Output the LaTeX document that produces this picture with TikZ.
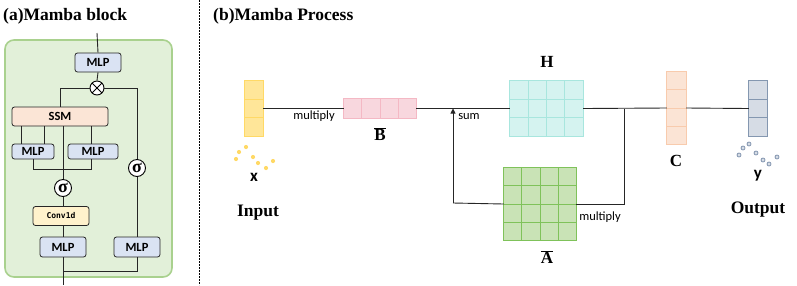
\documentclass[tikz,border=0pt]{standalone}
\usepackage{fontspec}
\setmainfont{Liberation Serif}
\newfontfamily\carl{Carlito}
\newfontfamily\dmono{DejaVu Sans Mono}
\usetikzlibrary{calc,arrows.meta}
\definecolor{cbox}{HTML}{DAE3F3}
\definecolor{cssm}{HTML}{FBE5D6}
\definecolor{cconv}{HTML}{FFF2CC}
\definecolor{cgreenbg}{HTML}{E2F0D9}
\definecolor{cgreenbd}{HTML}{A9D18E}
\definecolor{xfill}{HTML}{FFE699}
\definecolor{xdraw}{HTML}{FFD966}
\definecolor{bfill}{HTML}{F8D7DE}
\definecolor{bdraw}{HTML}{F4B8C4}
\definecolor{hfill}{HTML}{D5F3F0}
\definecolor{hdraw}{HTML}{A8E6DE}
\definecolor{afill}{HTML}{C9E3B6}
\definecolor{adraw}{HTML}{7FC25A}
\definecolor{cfill}{HTML}{FBE4D5}
\definecolor{cdraw}{HTML}{F8CBAD}
\definecolor{yfill}{HTML}{D6DCE5}
\definecolor{ydraw}{HTML}{8497B0}
\tikzset{
  blk/.style={draw=black!85, line width=0.8pt, rounded corners=2.5pt, inner sep=0pt, font=\carl\bfseries\fontsize{12.5}{13}\selectfont},
  mlpbox/.style={blk, fill=cbox},
  circ/.style={circle, draw=black, fill=white, line width=0.9pt, inner sep=0pt, minimum size=#1},
  sig/.style={circ=17pt, font=\bfseries\fontsize{18}{18}\selectfont},
  wire/.style={line width=0.9pt, draw=black!85},
  mat/.style={draw=none, inner sep=0pt},
  lbl/.style={font=\carl\fontsize{12.5}{13}\selectfont, inner sep=0pt},
  ttl/.style={font=\bfseries\fontsize{17.5}{19}\selectfont, inner sep=0pt, anchor=west},
  big/.style={font=\bfseries\fontsize{17.5}{19}\selectfont, inner sep=0pt},
  sym/.style={font=\bfseries\fontsize{17}{17}\selectfont, inner sep=0pt},
  bsym/.style={font=\bfseries\fontsize{17}{17}\selectfont, inner sep=0pt},
  vlbl/.style={font=\carl\bfseries\fontsize{17}{17}\selectfont, inner sep=0pt},
}
\newcommand\mgrid[5]{% name, cols, rows, fill, draw
  \fill[#4] (#1.south west) rectangle (#1.north east);
  \foreach \k in {1,...,#2} {\draw[#5, line width=0.9pt]
    ($(#1.south west)!{(\k-1)/#2}!(#1.south east)$) rectangle ($(#1.north west)!{\k/#2}!(#1.north east)$);}
  \foreach \k in {1,...,#3} {\draw[#5, line width=0.9pt]
    ($(#1.south west)!{(\k-1)/#3}!(#1.north west)$) rectangle ($(#1.south east)!{\k/#3}!(#1.north east)$);}
}
\begin{document}
\begin{tikzpicture}[x=1pt,y=-1pt]
\useasboundingbox (0,0) rectangle (797,285);
% ---------- (a)
\node[ttl] (ta) at (3,16) {(a)Mamba block};
\draw[cgreenbd, fill=cgreenbg, line width=1.6pt, rounded corners=9pt] (5,40) rectangle (172,277);
\coordinate (topin) at (97,33);
\coordinate (botout) at (63,285);
\node[mlpbox, minimum width=46pt, minimum height=19pt] (m1) at (98,62.5) {MLP};
\node[circ=14pt, path picture={\draw[line width=0.9pt] (path picture bounding box.north west) -- (path picture bounding box.south east) (path picture bounding box.north east) -- (path picture bounding box.south west);}] (ot) at (97,88) {};
\node[blk, fill=cssm, minimum width=96pt, minimum height=19pt] (ssm) at (60,116.5) {SSM};
\node[mlpbox, minimum width=42pt, minimum height=15pt] (ma) at (33,151.5) {MLP};
\node[mlpbox, minimum width=50pt, minimum height=15pt] (mb) at (93,151.5) {MLP};
\node[sig] (sl) at (63,188) {σ};
\node[sig] (sr) at (137,168) {σ};
\node[blk, fill=cconv, minimum width=56pt, minimum height=19pt, font=\dmono\bfseries\fontsize{8}{9}\selectfont] (cv) at (61,216) {Conv1d};
\node[mlpbox, minimum width=46pt, minimum height=20pt] (mc) at (63,247) {MLP};
\node[mlpbox, minimum width=46pt, minimum height=20pt] (md) at (137,247) {MLP};
\draw[wire] (topin) -- (m1.north);
\draw[wire] (m1.south) -- (ot.north);
\draw[wire] (ot.west) -| (ssm.north);
\draw[wire] (ot.east) -| (sr.north);
\draw[wire] (sr.south) -- (md.north);
\draw[wire] (ssm.south -| 21,0) -- (ma.north -| 21,0);
\draw[wire] (ssm.south -| 44,0) -- (ma.north -| 44,0);
\draw[wire] (ssm.south -| 91,0) -- (mb.north -| 91,0);
\draw[wire] (ssm.south -| 63,0) -- (sl.north);
\draw[wire] (ma.south) |- (91,169) -- (mb.south -| 91,0);
\draw[wire] (sl.south) -- (cv.north -| 63,0);
\draw[wire] (cv.south -| 63,0) -- (mc.north);
\draw[wire] (mc.south) -- (botout);
\draw[wire] (63,271) -| (md.south);
% separator
\draw[line width=0.8pt, dash pattern=on 1.6pt off 1.4pt] (199,0) -- (199,285);
% ---------- (b)
\node[ttl] (tb) at (213,16) {(b)Mamba Process};
\node[mat, minimum width=18pt, minimum height=55pt] (xv) at (254,108.5) {};
\node[mat, minimum width=72pt, minimum height=19pt] (B) at (380,108.5) {};
\node[mat, minimum width=73pt, minimum height=55pt] (H) at (546.5,108.5) {};
\node[mat, minimum width=72pt, minimum height=72pt] (A) at (540,204) {};
\node[mat, minimum width=19pt, minimum height=72pt] (C) at (676.5,108) {};
\node[mat, minimum width=18pt, minimum height=55pt] (yv) at (758,108.5) {};
\mgrid{xv}{1}{3}{xfill}{xdraw}
\mgrid{B}{4}{1}{bfill}{bdraw}
\mgrid{H}{4}{3}{hfill}{hdraw}
\mgrid{A}{4}{4}{afill}{adraw}
\mgrid{C}{1}{4}{cfill}{cdraw}
\mgrid{yv}{1}{3}{yfill}{ydraw}
\coordinate (sumpt) at (453,203);
\coordinate (jn) at (624,108.5);
\draw[wire] (xv.east) -- (B.west);
\draw[wire] (B.east) -- (H.west);
\draw[wire] (H.east) -- (C.west);
\draw[wire] (C.east) -- (yv.west);
\draw[wire] (jn) |- (A.east);
\draw[wire] (A.west) -- (sumpt);
\draw[wire, -{Triangle[length=5pt,width=5pt]}] (sumpt) -- (sumpt |- H.west);
\node[lbl] (l1) at (314,116.5) {multiply};
\node[lbl] (l2) at (469,117) {sum};
\node[lbl] (l3) at (600,217) {multiply};
\node[sym] (lb) at (380,134) {$\overline{\hbox{B}}$};
\node[sym] (la) at (547,257) {$\overline{\hbox{A}}$};
\node[bsym] (lh) at (547,62) {H};
\node[bsym] (lc) at (676,161) {C};
\node[vlbl] (lx) at (254,177) {x};
\node[vlbl] (ly) at (758,176) {y};
\node[big] (inp) at (258,213) {Input};
\node[big] (outp) at (758,210) {Output};
\foreach \p in {(236,159),(239,152),(246,147),(253,157),(258,163),(266,168),(273,161)}
  \fill[xdraw] \p circle (2.1);
\foreach \p in {(739,155),(743,148),(749,144),(756,153),(763,160),(769,164),(777,157)}
  \draw[ydraw, fill=yfill, line width=0.8pt] \p circle (2);
\end{tikzpicture}
\end{document}
